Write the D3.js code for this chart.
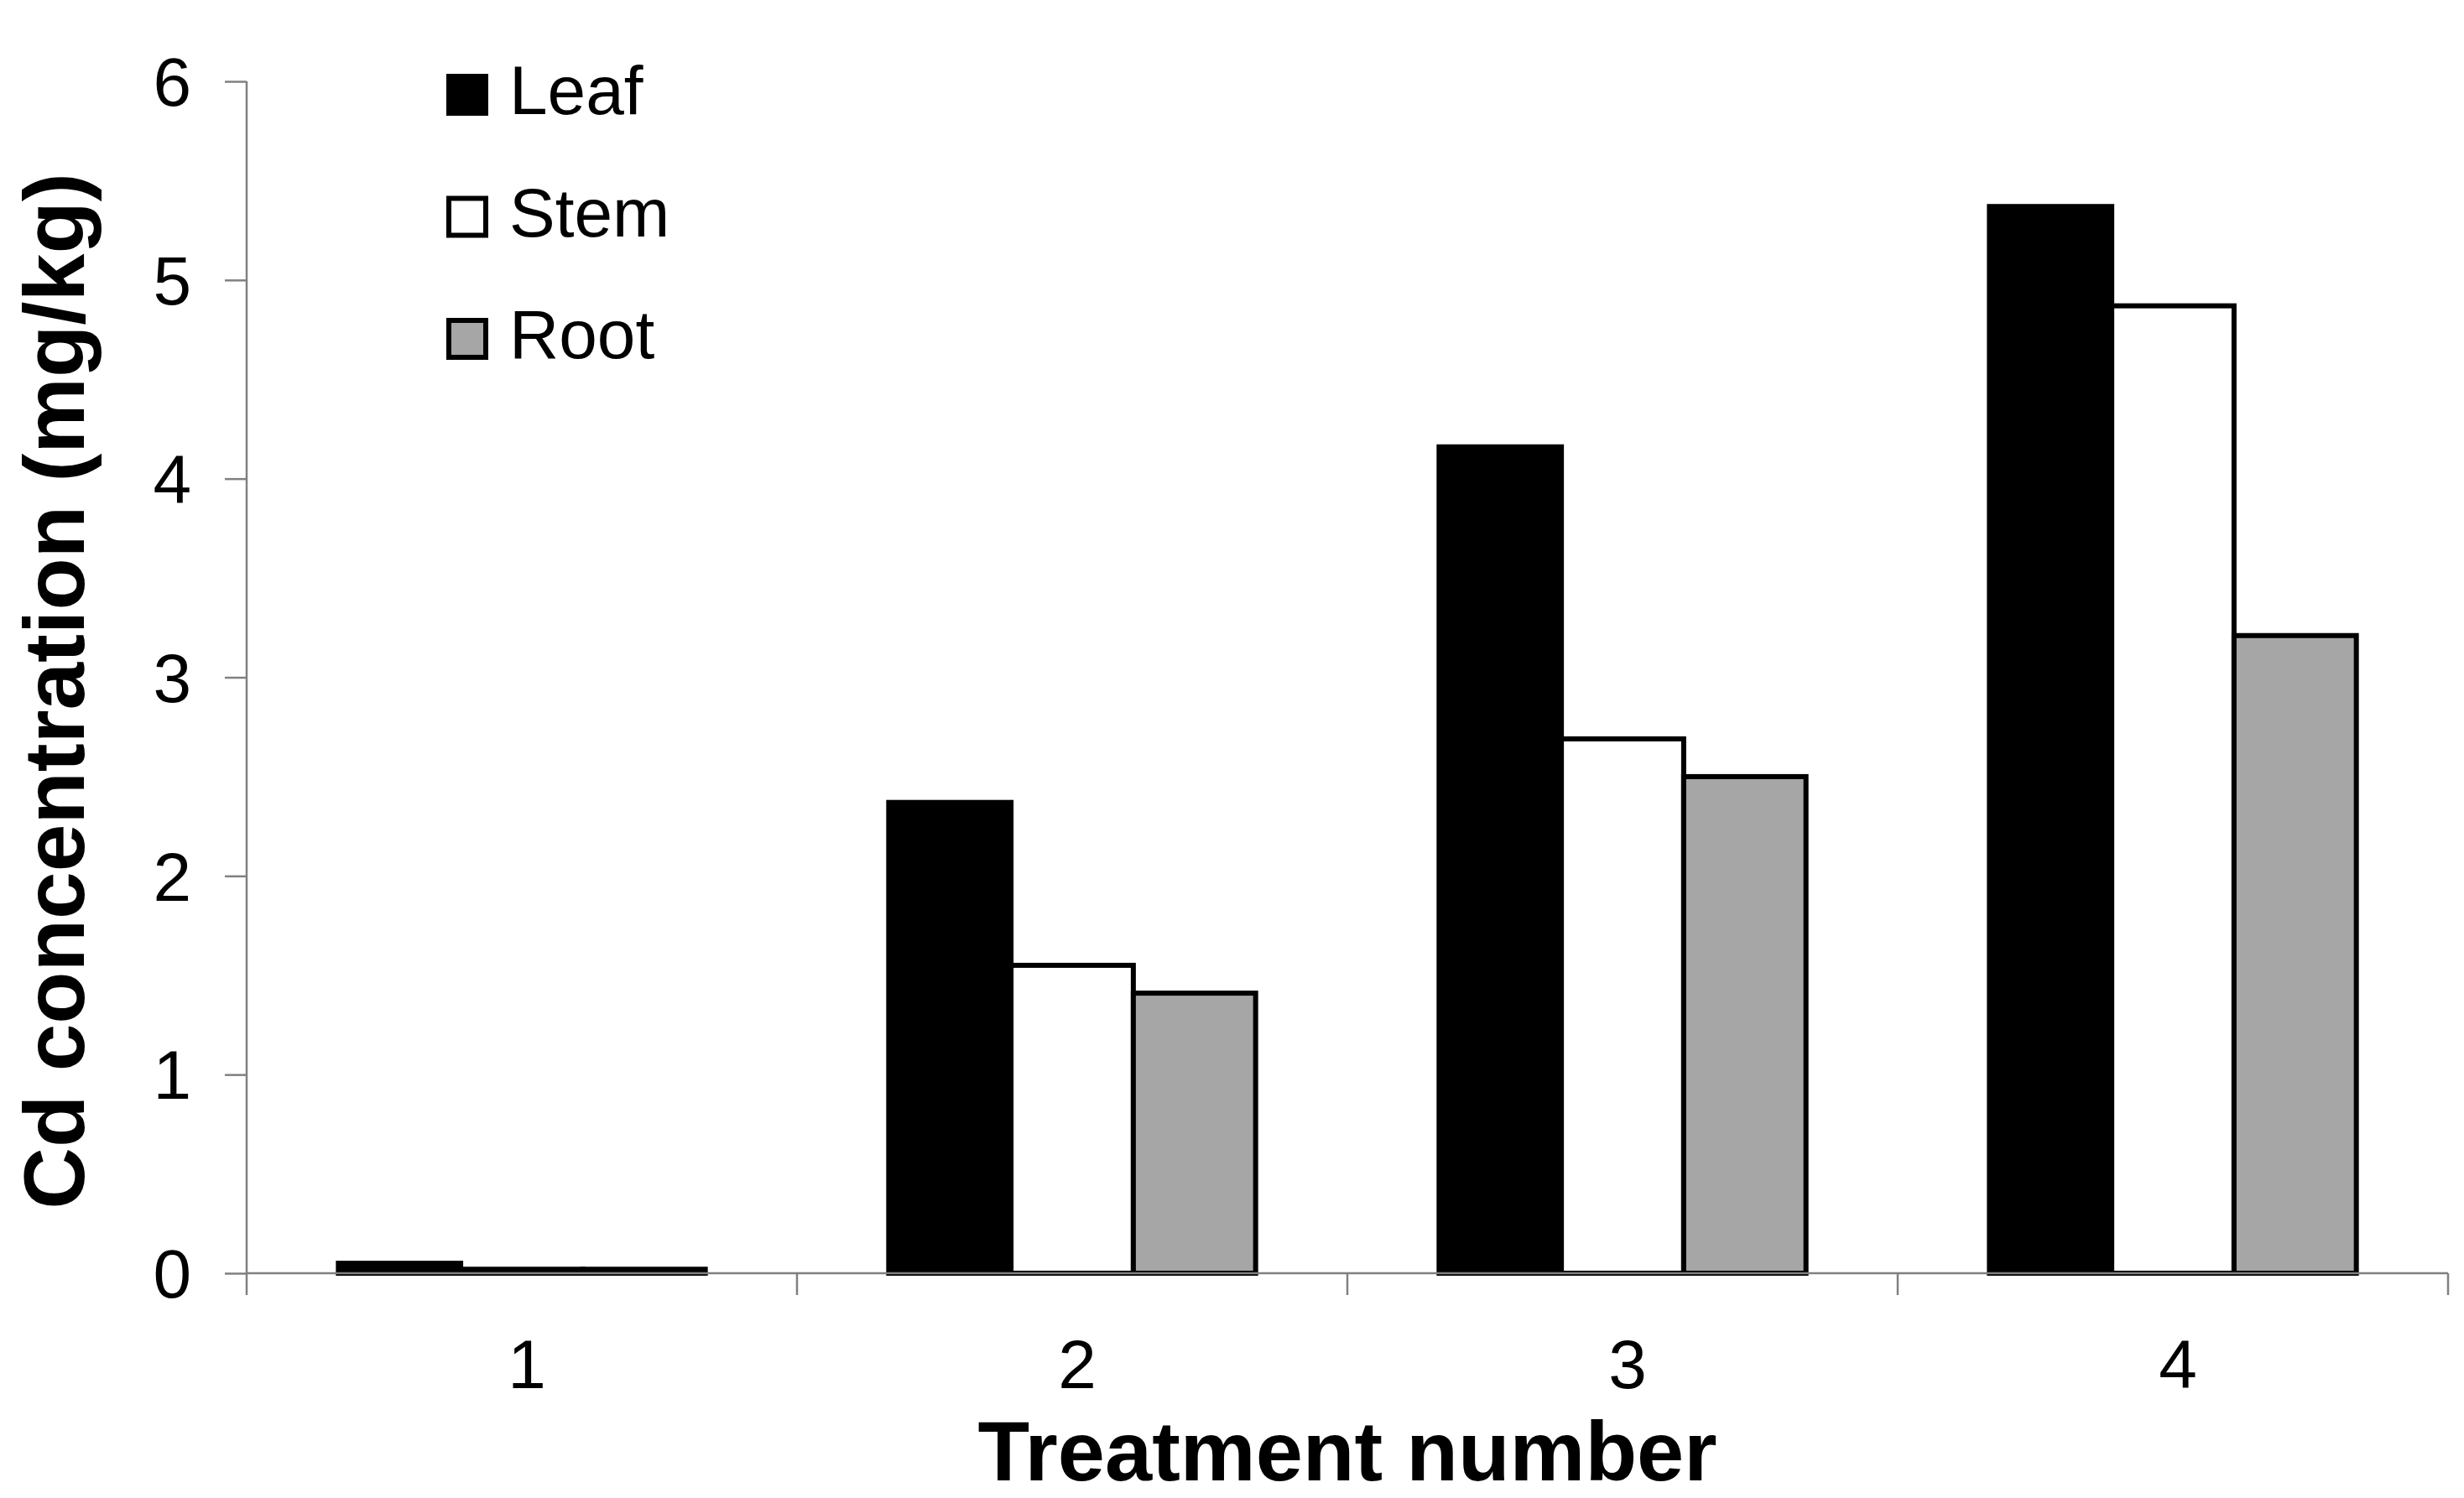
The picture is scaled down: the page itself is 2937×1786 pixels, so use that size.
<!DOCTYPE html>
<html>
<head>
<meta charset="utf-8">
<script src="https://cdn.jsdelivr.net/npm/d3@7"></script>
<style>
  html, body { margin: 0; padding: 0; background: #fff; }
  svg text { font-family: "Liberation Sans", Arial, sans-serif; fill: #000; }
</style>
</head>
<body>
<svg id="chart" width="2937" height="1786"></svg>
<script>
// ---- data ----
const categories = ["1", "2", "3", "4"];
const seriesNames = ["Leaf", "Stem", "Root"];
const leafValues = [0.05, 2.37, 4.16, 5.37];
const stemValues = [0.02, 1.55, 2.69, 4.87];
const rootValues = [0.02, 1.41, 2.50, 3.21];
const yTicks = [0, 1, 2, 3, 4, 5, 6];
const xTitle = "Treatment number";
const yTitle = "Cd concentration (mg/kg)";

(function () {
const seriesValues = { Leaf: leafValues, Stem: stemValues, Root: rootValues };
const fills = { Leaf: "#000000", Stem: "#ffffff", Root: "#a6a6a6" };

// ---- layout ----
const pLeft = 294, pRight = 2918, pTop = 97, pBottom = 1518;
const svg = d3.select("#chart");

const x0 = d3.scaleBand().domain(categories).range([pLeft, pRight]).paddingInner(0).paddingOuter(0);
const x1 = d3.scaleBand().domain(seriesNames).range([0, x0.bandwidth()]).paddingInner(0).paddingOuter(0.75);
const y = d3.scaleLinear().domain([0, 6]).range([pBottom, pTop]);

// bars
const rows = [];
categories.forEach((c, i) => seriesNames.forEach(s => rows.push({ c, s, v: seriesValues[s][i] })));

svg.append("g").selectAll("rect").data(rows).join("rect")
  .attr("x", d => x0(d.c) + x1(d.s))
  .attr("y", d => y(d.v))
  .attr("width", x1.bandwidth())
  .attr("height", d => y(0) - y(d.v))
  .attr("fill", d => fills[d.s])
  .attr("stroke", "#000")
  .attr("stroke-width", 6)
  .attr("stroke-linejoin", "miter");

// y axis
const yAxis = d3.axisLeft(y).tickValues(yTicks).tickSize(26).tickPadding(40).tickFormat(d3.format("d"));
const gy = svg.append("g").attr("transform", `translate(${pLeft},0)`).call(yAxis);
gy.select(".domain").attr("stroke", "#808080").attr("stroke-width", 2.5).attr("d", `M0,${pTop}V${pBottom}`);
gy.selectAll(".tick line").attr("stroke", "#808080").attr("stroke-width", 2.5);
gy.selectAll(".tick text").attr("font-size", 82).attr("dy", "0.35em").attr("fill", "#000")
  .style("font-family", '"Liberation Sans", Arial, sans-serif');

// x axis: ticks at category boundaries
const gx = svg.append("g").attr("transform", `translate(0,${pBottom})`);
gx.append("line").attr("x1", pLeft).attr("x2", pRight).attr("y1", 0).attr("y2", 0)
  .attr("stroke", "#808080").attr("stroke-width", 2.5);
const bounds = categories.map(c => x0(c)).concat([x0(categories[categories.length - 1]) + x0.bandwidth()]);
gx.selectAll("line.tk").data(bounds).join("line").attr("class", "tk")
  .attr("x1", d => d).attr("x2", d => d).attr("y1", 0).attr("y2", 26)
  .attr("stroke", "#808080").attr("stroke-width", 2.5);
gx.selectAll("text").data(categories).join("text")
  .attr("x", d => x0(d) + x0.bandwidth() / 2 + 6)
  .attr("y", 137)
  .attr("text-anchor", "middle")
  .attr("font-size", 82)
  .text(d => d);

// axis titles
svg.append("text")
  .attr("x", (pLeft + pRight) / 2)
  .attr("y", 1764.5)
  .attr("text-anchor", "middle")
  .attr("font-size", 101)
  .attr("font-weight", "bold")
  .text(xTitle);

svg.append("text")
  .attr("transform", "translate(100,824) rotate(-90)")
  .attr("text-anchor", "middle")
  .attr("font-size", 102)
  .attr("font-weight", "bold")
  .text(yTitle);

// legend
const legendY = d3.scalePoint().domain(seriesNames).range([113, 404]);
const lg = svg.append("g").selectAll("g").data(seriesNames).join("g")
  .attr("transform", d => `translate(532,${legendY(d)})`);
lg.append("rect")
  .attr("x", 3).attr("y", -22).attr("width", 44).attr("height", 44)
  .attr("fill", d => fills[d]).attr("stroke", "#000").attr("stroke-width", 6);
lg.append("text")
  .attr("x", 75).attr("y", 23)
  .attr("font-size", 82)
  .text(d => d);
})();
</script>
</body>
</html>
